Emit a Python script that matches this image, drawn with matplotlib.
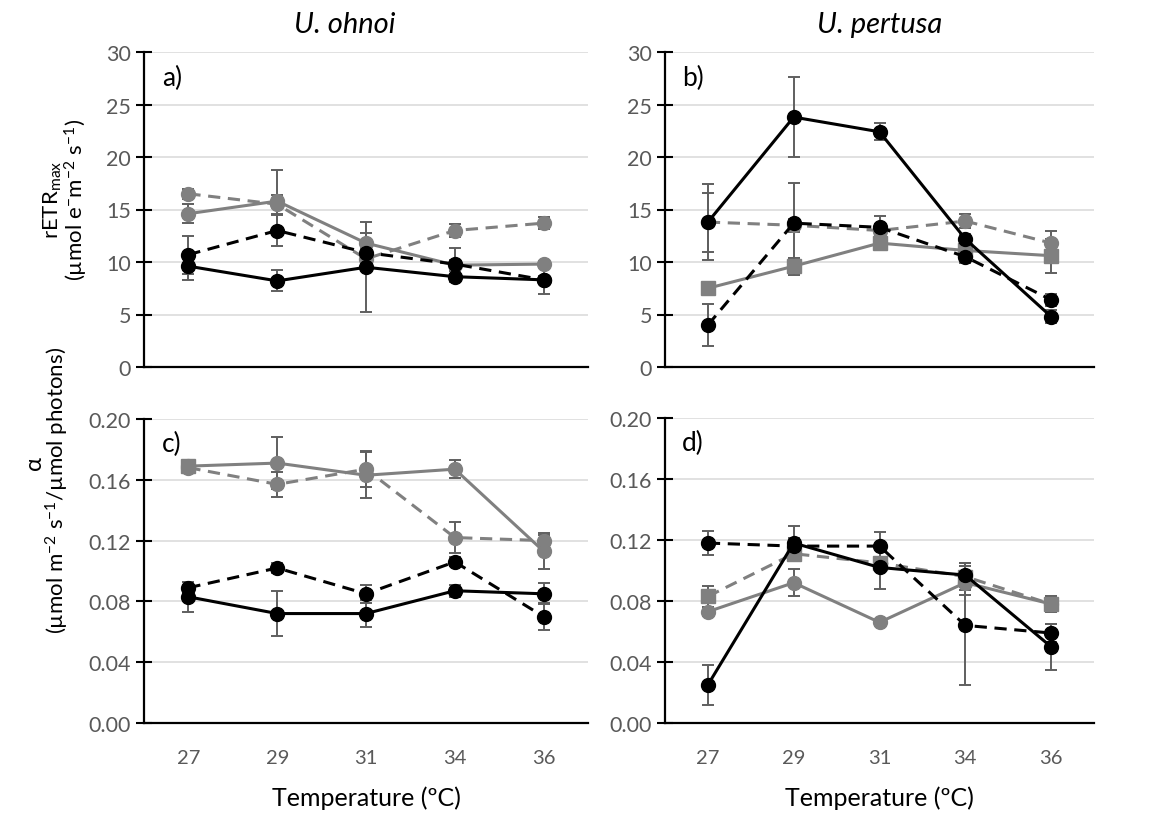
import numpy as np
from matplotlib import pyplot as plt

plt.rc('font', family=['Lato', 'DejaVu Sans'], size=14)
plt.rc('mathtext', fontset='custom', rm='Lato', it='Lato:italic')
plt.rc('axes', facecolor='white')

temps = ['27', '29', '31', '34', '36']

# U. ohnoi, rETRmax
a_gray_solid = [14.6, 15.8, 11.8, 9.7, 9.8]
a_gray_solid_err = [0.9, 3.0, 1.0, 0.5, 0.3]
a_gray_dash = [16.5, 15.5, 10.3, 13.0, 13.7]
a_gray_dash_err = [0.5, 0.9, 0.5, 0.6, 0.6]
a_black_dash = [10.7, 13.0, 10.9, 9.8, 8.3]
a_black_dash_err = [1.8, 1.5, 0.4, 1.5, 0.4]
a_black_solid = [9.6, 8.2, 9.5, 8.6, 8.3]
a_black_solid_err = [1.3, 1.0, 4.3, 0.5, 1.3]

# U. pertusa, rETRmax
b_gray_solid = [7.5, 9.6, 11.8, 11.1, 10.6]
b_gray_solid_err = [0.3, 0.8, 0.7, 0.6, 1.6]
b_gray_dash = [13.8, 13.5, 13.0, 13.9, 11.8]
b_gray_dash_err = [2.8, 0.6, 0.6, 0.7, 1.2]
b_black_dash = [4.0, 13.7, 13.3, 10.5, 6.4]
b_black_dash_err = [2.0, 3.8, 1.1, 0.6, 0.6]
b_black_solid = [13.8, 23.8, 22.4, 12.2, 4.8]
b_black_solid_err = [3.6, 3.8, 0.8, 0.5, 0.6]

# U. ohnoi, alpha
c_gray_solid = [0.169, 0.171, 0.163, 0.167, 0.113]
c_gray_solid_err = [0.002, 0.017, 0.015, 0.006, 0.012]
c_gray_dash = [0.168, 0.157, 0.167, 0.122, 0.120]
c_gray_dash_err = [0.002, 0.008, 0.012, 0.010, 0.004]
c_black_dash = [0.089, 0.102, 0.085, 0.106, 0.070]
c_black_dash_err = [0.004, 0.003, 0.006, 0.003, 0.009]
c_black_solid = [0.083, 0.072, 0.072, 0.087, 0.085]
c_black_solid_err = [0.010, 0.015, 0.009, 0.004, 0.007]

# U. pertusa, alpha
d_gray_solid = [0.073, 0.092, 0.066, 0.092, 0.078]
d_gray_solid_err = [0.003, 0.009, 0.001, 0.008, 0.004]
d_gray_dash = [0.083, 0.111, 0.105, 0.096, 0.078]
d_gray_dash_err = [0.007, 0.004, 0.004, 0.009, 0.005]
d_black_dash = [0.118, 0.116, 0.116, 0.064, 0.059]
d_black_dash_err = [0.008, 0.005, 0.009, 0.039, 0.006]
d_black_solid = [0.025, 0.118, 0.102, 0.097, 0.050]
d_black_solid_err = [0.013, 0.011, 0.014, 0.008, 0.015]

gray = '#808080'
ecol = '#5f5f5f'
tickcol = '#595959'
x = np.arange(len(temps))

W, H = 1166, 820
fig = plt.figure(figsize=(W / 100, H / 100), dpi=100)


def box(l, r, top, bot):
    return [l / W, 1 - bot / H, (r - l) / W, (bot - top) / H]


def series(ax, y, err, color, ls, marker='o', z=3):
    ax.errorbar(x, y, yerr=err, color=color, ecolor=ecol, elinewidth=1.4,
                capsize=4.5, capthick=1.4, lw=2.2, ls=ls, marker=marker,
                ms=10, zorder=z,
                dashes=(4, 2.5) if ls == '--' else (None, None))


def setup(ax, ymax, step, fmt, letter, bottom):
    ax.set_xlim(-0.5, len(temps) - 0.5)
    ax.set_ylim(0, ymax)
    ax.set_yticks(np.arange(0, ymax + step / 2, step))
    ax.yaxis.set_major_formatter(plt.FormatStrFormatter(fmt))
    ax.grid(axis='y', color='#dcdcdc', lw=1.2, zorder=0)
    ax.set_axisbelow(True)
    for s in ['top', 'right']:
        ax.spines[s].set_visible(False)
    for s in ['left', 'bottom']:
        ax.spines[s].set_linewidth(1.6)
    ax.tick_params(axis='y', direction='inout', length=11, width=1.5,
                   colors='black', labelcolor=tickcol, labelsize=15.5, pad=4)
    ax.set_xticks(x)
    if bottom:
        ax.set_xticklabels(temps)
        ax.tick_params(axis='x', length=0, pad=19, labelcolor=tickcol,
                       labelsize=14.5)
        ax.set_xlabel('Temperature (ºC)', fontsize=18, labelpad=14)
    else:
        ax.set_xticklabels([])
        ax.tick_params(axis='x', length=0)
    ax.text(0.04, 0.92, letter, transform=ax.transAxes, fontsize=19,
            va='center', ha='left')


ax_a = fig.add_axes(box(144, 588, 53, 368))
ax_b = fig.add_axes(box(665, 1094, 53, 368))
ax_c = fig.add_axes(box(144, 588, 420, 724))
ax_d = fig.add_axes(box(665, 1094, 419, 724))

series(ax_a, a_gray_dash, a_gray_dash_err, gray, '--')
series(ax_a, a_gray_solid, a_gray_solid_err, gray, '-')
series(ax_a, a_black_dash, a_black_dash_err, 'black', '--')
series(ax_a, a_black_solid, a_black_solid_err, 'black', '-')

series(ax_b, b_gray_solid, b_gray_solid_err, gray, '-', marker='s')
series(ax_b, b_gray_dash, b_gray_dash_err, gray, '--')
series(ax_b, b_black_dash, b_black_dash_err, 'black', '--')
series(ax_b, b_black_solid, b_black_solid_err, 'black', '-')

series(ax_c, c_gray_dash, c_gray_dash_err, gray, '--')
series(ax_c, c_gray_solid, c_gray_solid_err, gray, '-')
ax_c.plot(x[0], c_gray_solid[0], 's', color=gray, ms=10, zorder=4)
series(ax_c, c_black_dash, c_black_dash_err, 'black', '--')
series(ax_c, c_black_solid, c_black_solid_err, 'black', '-')

series(ax_d, d_gray_solid, d_gray_solid_err, gray, '-')
series(ax_d, d_gray_dash, d_gray_dash_err, gray, '--', marker='s')
series(ax_d, d_black_dash, d_black_dash_err, 'black', '--')
series(ax_d, d_black_solid, d_black_solid_err, 'black', '-')

setup(ax_a, 30, 5, '%d', 'a)', False)
setup(ax_b, 30, 5, '%d', 'b)', False)
setup(ax_c, 0.20, 0.04, '%.2f', 'c)', True)
setup(ax_d, 0.20, 0.04, '%.2f', 'd)', True)

fig.text(345 / W, 1 - 25 / H, 'U. ohnoi', style='italic', fontsize=21,
         ha='center', va='center')
fig.text(880 / W, 1 - 25 / H, 'U. pertusa', style='italic', fontsize=21,
         ha='center', va='center')

fig.text(53 / W, 1 - 200 / H, r'rETR$_{\mathrm{max}}$', rotation=90,
         fontsize=16, ha='center', va='center')
fig.text(76 / W, 1 - 200 / H, r'(µmol e$^{-}$m$^{-2}$ s$^{-1}$)',
         rotation=90, fontsize=16, ha='center', va='center')
fig.text(34 / W, 1 - 463 / H, 'α', rotation=90, fontsize=17,
         ha='center', va='center')
fig.text(57 / W, 1 - 490 / H, r'(µmol m$^{-2}$ s$^{-1}$/µmol photons)',
         rotation=90, fontsize=16, ha='center', va='center')

fig.savefig('out.png', dpi=100)
